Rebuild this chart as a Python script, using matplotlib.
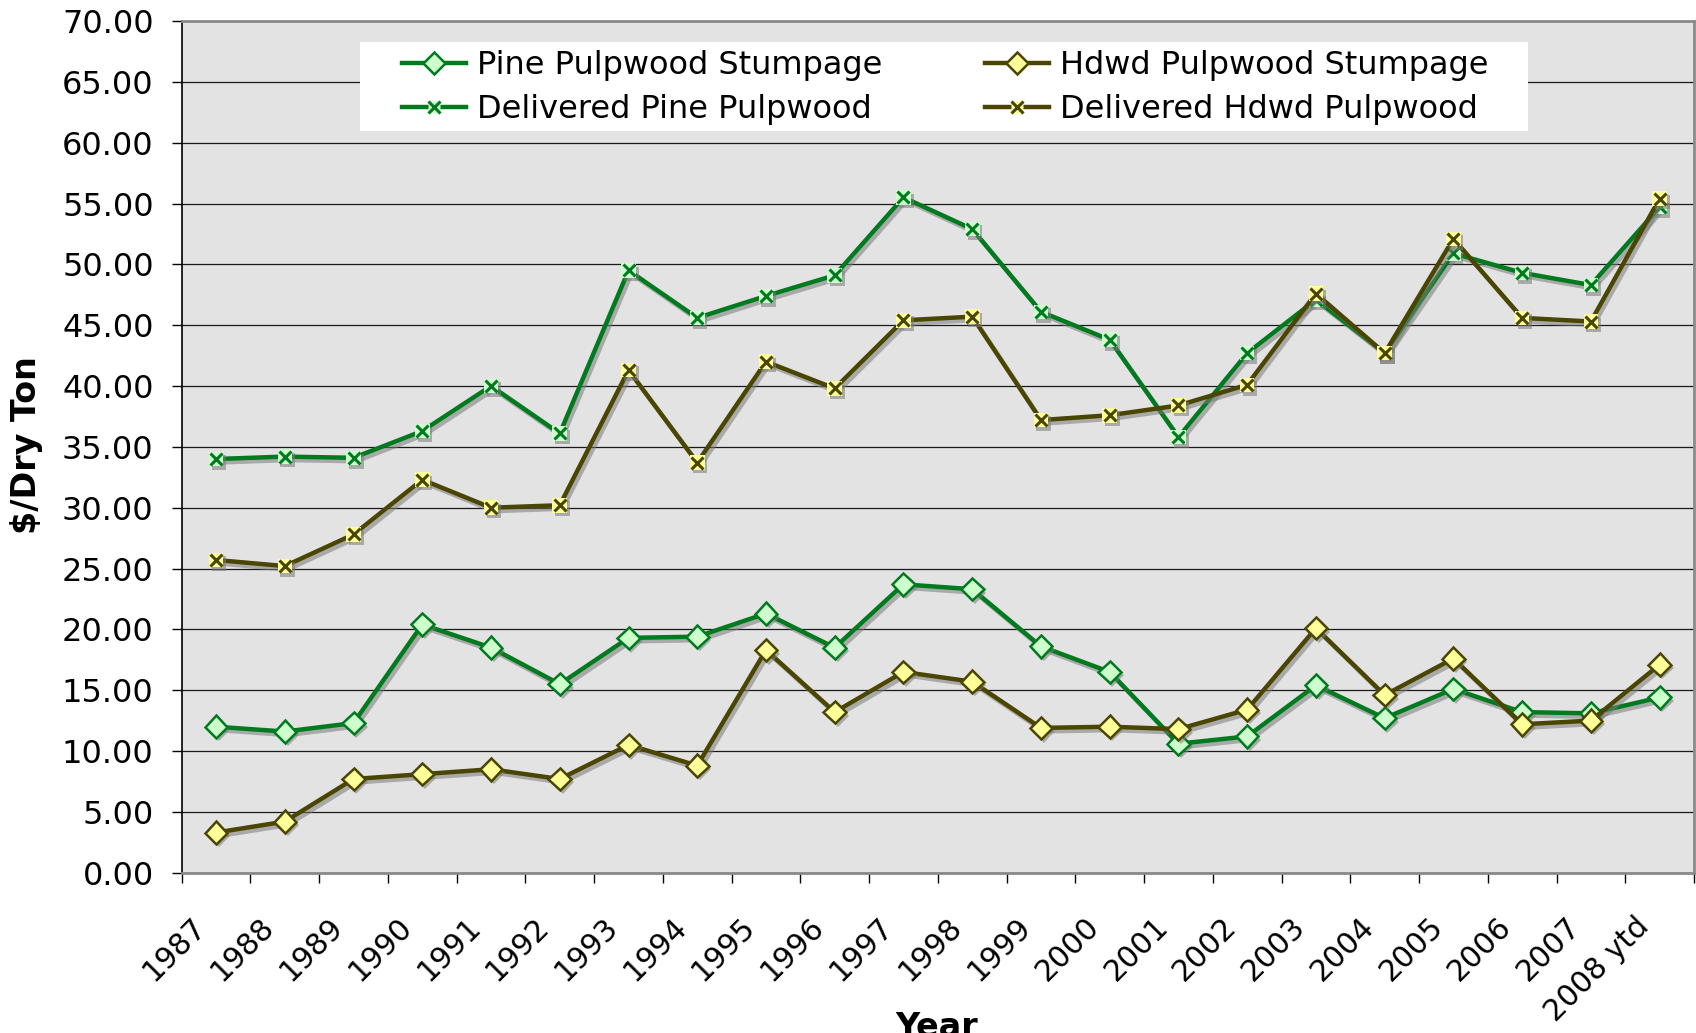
import numpy as np
import matplotlib
matplotlib.use('Agg')
import matplotlib.pyplot as plt
import matplotlib.patheffects as pe
import matplotlib.transforms as mtrans
from matplotlib.lines import Line2D
from matplotlib.patches import Rectangle
from matplotlib.legend_handler import HandlerBase
from matplotlib.ticker import FormatStrFormatter

# values ($/dry ton)
years = ['1987', '1988', '1989', '1990', '1991', '1992', '1993', '1994', '1995', '1996', '1997',
         '1998', '1999', '2000', '2001', '2002', '2003', '2004', '2005', '2006', '2007', '2008 ytd']
pine_stump = [12.0, 11.6, 12.3, 20.4, 18.5, 15.5, 19.3, 19.4, 21.3, 18.5, 23.7,
              23.3, 18.6, 16.5, 10.6, 11.2, 15.4, 12.7, 15.1, 13.2, 13.1, 14.4]
hdwd_stump = [3.3, 4.2, 7.7, 8.1, 8.5, 7.7, 10.5, 8.8, 18.3, 13.2, 16.5,
              15.7, 11.9, 12.0, 11.8, 13.4, 20.1, 14.6, 17.6, 12.2, 12.5, 17.1]
pine_deliv = [34.0, 34.2, 34.1, 36.3, 40.0, 36.1, 49.5, 45.6, 47.4, 49.1, 55.5,
              52.9, 46.1, 43.8, 35.8, 42.7, 47.1, 42.7, 50.9, 49.3, 48.3, 54.7]
hdwd_deliv = [25.7, 25.2, 27.8, 32.3, 30.0, 30.2, 41.3, 33.7, 42.0, 39.8, 45.4,
              45.7, 37.2, 37.6, 38.4, 40.1, 47.6, 42.7, 52.1, 45.6, 45.3, 55.4]

GREEN = '#007A1E'
OLIVE = '#4A4500'
PALE_G = '#CCFFCC'
PALE_Y = '#FFFF99'

W, H = 1696, 1033
fig = plt.figure(figsize=(W / 100, H / 100), dpi=100)
ax = fig.add_axes([181.7 / W, (H - 872.7) / H, (1694 - 181.7) / W, (872.7 - 21) / H])
ax.set_facecolor('#E3E3E3')

x = np.arange(len(years))
line_fx = [pe.SimpleLineShadow(offset=(2, -2.5), shadow_color='#7a7a7a', alpha=0.55), pe.Normal()]
mark_fx = [pe.SimplePatchShadow(offset=(2, -2.5), shadow_rgbFace='#7a7a7a', alpha=0.55), pe.Normal()]


def draw(vals, col, face, kind, z):
    ax.plot(x, vals, color=col, lw=3.2, path_effects=line_fx, zorder=z)
    if kind == 'D':
        ax.plot(x, vals, ls='none', marker='D', ms=11.5, mfc=face, mec=col, mew=1.8,
                path_effects=mark_fx, zorder=z + 0.01)
    else:
        ax.plot(x, vals, ls='none', marker='s', ms=10.5, mfc=face, mec='none',
                path_effects=mark_fx, zorder=z + 0.01)
        ax.plot(x, vals, ls='none', marker='x', ms=9, mec=col, mew=2.2, zorder=z + 0.02)


draw(pine_stump, GREEN, PALE_G, 'D', 3.0)
draw(hdwd_stump, OLIVE, PALE_Y, 'D', 3.1)
draw(pine_deliv, GREEN, PALE_G, 'x', 3.2)
draw(hdwd_deliv, OLIVE, PALE_Y, 'x', 3.3)

# axes
ax.set_ylim(0, 70)
ax.set_yticks(np.arange(0, 71, 5))
ax.yaxis.set_major_formatter(FormatStrFormatter('%.2f'))
ax.tick_params(axis='y', length=7.2, width=1, pad=13, labelsize=23, direction='out')
ax.grid(axis='y', color='#1a1a1a', lw=0.9)
ax.set_axisbelow(True)

ax.set_xlim(-0.5, len(years) - 0.5)
ax.set_xticks(np.arange(-0.5, len(years), 1))
ax.tick_params(axis='x', which='major', length=7.2, width=1, labelbottom=False, direction='out')
ax.set_xticks(x, minor=True)
ax.set_xticklabels(years, minor=True, rotation=45, ha='right', va='baseline',
                   rotation_mode='anchor', fontsize=21.5)
ax.tick_params(axis='x', which='minor', length=0, pad=40)
for lab in ax.get_xticklabels(minor=True):
    lab.set_transform(lab.get_transform() + mtrans.ScaledTranslation(-9 / 100, 0, fig.dpi_scale_trans))

ax.spines['left'].set_color('black')
ax.spines['left'].set_linewidth(1.2)
for s in ['top', 'right', 'bottom']:
    ax.spines[s].set_color('#8a8a8a')
    ax.spines[s].set_linewidth(2)


# legend entry for the delivered series: line, pale square, x on top
class DelivHandler(HandlerBase):
    def __init__(self, col, face):
        super().__init__()
        self.col = col
        self.face = face

    def create_artists(self, legend, orig_handle, xdescent, ydescent, width, height, fontsize, trans):
        y = height / 2 - ydescent
        xc = width / 2 - xdescent
        ln = Line2D([-xdescent, width - xdescent], [y, y], color=self.col, lw=3.2)
        sq = Line2D([xc], [y], ls='none', marker='s', ms=9, mfc=self.face, mec='none')
        xm = Line2D([xc], [y], ls='none', marker='x', ms=8, mec=self.col, mew=2.2)
        for a in (ln, sq, xm):
            a.set_transform(trans)
        return [ln, sq, xm]


fig.patches.append(Rectangle((360 / W, 1 - 131 / H), (1528 - 360) / W, (131 - 42) / H,
                             transform=fig.transFigure, facecolor='white', edgecolor='none', zorder=5))
h_ps = Line2D([], [], color=GREEN, lw=3.2, marker='D', ms=11, mfc=PALE_G, mec=GREEN, mew=1.8)
h_pd = Line2D([], [], color=GREEN)
h_hs = Line2D([], [], color=OLIVE, lw=3.2, marker='D', ms=11, mfc=PALE_Y, mec=OLIVE, mew=1.8)
h_hd = Line2D([], [], color=OLIVE)
labels = ['Pine Pulpwood Stumpage', 'Delivered Pine Pulpwood',
          'Hdwd Pulpwood Stumpage', 'Delivered Hdwd Pulpwood']
leg = fig.legend([h_ps, h_pd, h_hs, h_hd], labels, ncol=2, loc='upper left',
                 bbox_to_anchor=(402 / W, 1 - 50 / H),
                 frameon=False, fontsize=23, handlelength=2.0, handletextpad=0.35,
                 columnspacing=3.2, borderpad=0, labelspacing=0.42, borderaxespad=0,
                 handler_map={h_pd: DelivHandler(GREEN, PALE_G), h_hd: DelivHandler(OLIVE, PALE_Y)})
leg.set_zorder(6)

fig.text(27 / W, 1 - 445 / H, '$/Dry Ton', rotation=90, fontsize=24, fontweight='bold',
         ha='center', va='center')
fig.text(937 / W, 1 - 1011 / H, 'Year', fontsize=24, fontweight='bold', ha='center', va='top')

fig.savefig('out.png', dpi=100)
